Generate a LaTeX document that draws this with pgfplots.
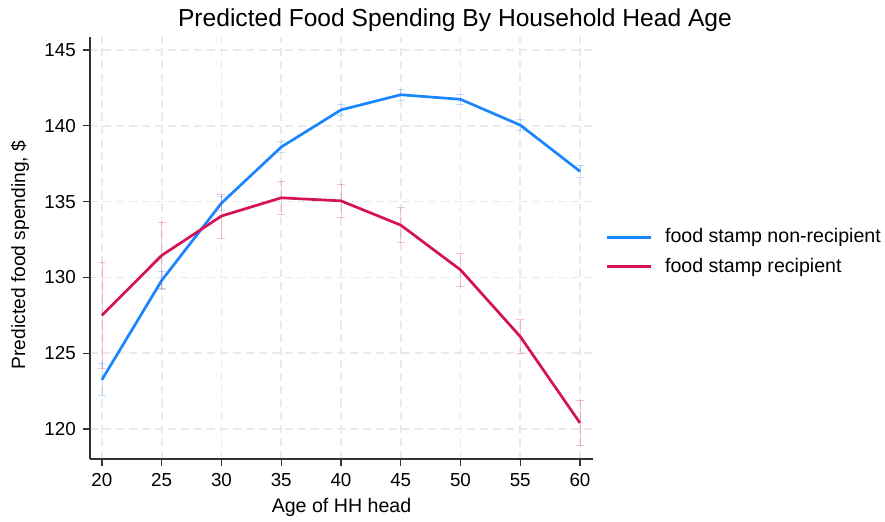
\documentclass[border=0pt]{standalone}
\usepackage{pgfplots}
\pgfplotsset{compat=1.18}
\usepackage{fontspec}
\setmainfont{Liberation Sans}
\definecolor{nonrec}{HTML}{1A85FF}
\definecolor{rec}{HTML}{D41159}
\definecolor{gridc}{HTML}{EAEAEA}
\begin{document}
\begin{tikzpicture}
\useasboundingbox (-45pt,-31pt) rectangle (397.5pt,229.5pt);
\begin{axis}[
  scale only axis, width=251.5pt, height=211pt,
  xmin=19.0, xmax=61.09, ymin=118.02, ymax=145.86,
  axis x line*=bottom, axis y line*=left,
  axis line style={line width=0.6pt, black!80},
  xtick={20,25,...,60}, ytick={120,125,...,145},
  tick align=outside, major tick length=3.6pt,
  tick style={line width=0.6pt, black!80},
  grid=major,
  major grid style={gridc, line width=0.8pt, dash pattern=on 4pt off 2.5pt},
  ticklabel style={font=\fontsize{9.4}{10}\selectfont},
  /pgf/number format/assume math mode=true,
  /pgf/number format/1000 sep={},
  legend style={draw=none, fill=none, at={(1.0,0.5)}, anchor=west,
    font=\fontsize{9.8}{11}\selectfont, row sep=2.2pt, xshift=3pt, yshift=-2pt},
  legend cell align=left,
  legend image code/.code={\draw[#1] (0pt,0pt) -- (22pt,0pt); \path (26.5pt,0pt);},
  error bars/error bar style={line width=0.45pt, opacity=0.25},
  error bars/error mark options={rotate=90, mark size=2pt, line width=0.45pt, opacity=0.25},
]
\addplot[nonrec, line width=1.35pt, mark=none,
  error bars/.cd, y dir=both, y explicit]
  coordinates {
  (20,123.25) +- (0,1.05)
  (25,129.8) +- (0,0.6)
  (30,134.9) +- (0,0.45)
  (35,138.6) +- (0,0.35)
  (40,141.05) +- (0,0.35)
  (45,142.05) +- (0,0.35)
  (50,141.75) +- (0,0.35)
  (55,140.05) +- (0,0.35)
  (60,137.0) +- (0,0.4)
  };
\addlegendentry{food stamp non-recipient}
\addplot[rec, line width=1.35pt, mark=none,
  error bars/.cd, y dir=both, y explicit]
  coordinates {
  (20,127.5) +- (0,3.5)
  (25,131.45) +- (0,2.2)
  (30,134.05) +- (0,1.45)
  (35,135.25) +- (0,1.1)
  (40,135.05) +- (0,1.1)
  (45,133.45) +- (0,1.15)
  (50,130.5) +- (0,1.1)
  (55,126.1) +- (0,1.1)
  (60,120.4) +- (0,1.5)
  };
\addlegendentry{food stamp recipient}
\end{axis}
\node[font=\fontsize{12.3}{14}\selectfont] at (182.5pt,219.5pt) {Predicted Food Spending By Household Head Age};
\node[font=\fontsize{9.8}{11}\selectfont] at (125.75pt,-24pt) {Age of HH head};
\node[font=\fontsize{9.6}{11}\selectfont, rotate=90] at (-35pt,102pt) {Predicted food spending, \$};
\end{tikzpicture}
\end{document}
